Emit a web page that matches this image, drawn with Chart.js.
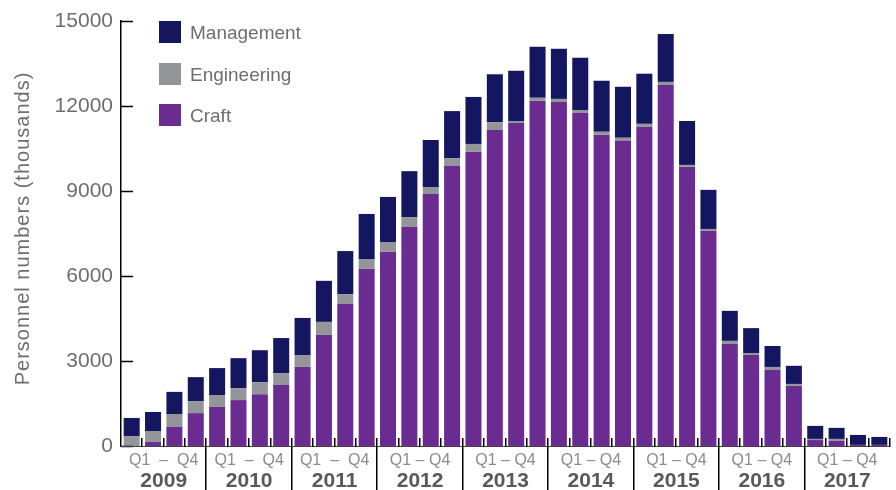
<!DOCTYPE html>
<html>
<head>
<meta charset="utf-8">
<script src="https://cdn.jsdelivr.net/npm/chart.js@4.4.0/dist/chart.umd.min.js"></script>
<style>
  html, body { margin: 0; padding: 0; background: #fff; }
  #wrap { width: 896px; height: 490px; position: relative; }
</style>
</head>
<body>
<div id="wrap"><canvas id="chart"></canvas></div>
<script>
// quarterly personnel numbers (thousands), 2009 Q1 .. 2017 Q4
var years = ['2009', '2010', '2011', '2012', '2013', '2014', '2015', '2016', '2017'];
var quarters = ['Q1', 'Q2', 'Q3', 'Q4'];
var periodLabels = ['Q1  \u2013  Q4', 'Q1  \u2013  Q4', 'Q1  \u2013  Q4', 'Q1 \u2013 Q4', 'Q1 \u2013 Q4',
                    'Q1 \u2013 Q4', 'Q1 \u2013 Q4', 'Q1 \u2013 Q4', 'Q1 \u2013 Q4'];

var craft = [0, 140, 670, 1160, 1380, 1620, 1830, 2150,
             2790, 3920, 5010, 6250, 6850, 7730, 8890, 9880,
             10380, 11150, 11400, 12180, 12140, 11750, 10980, 10770,
             11260, 12740, 9850, 7590, 3600, 3210, 2680, 2120,
             210, 180, 40, 40];
var engineering = [350, 390, 460, 420, 420, 420, 420, 420,
                   420, 460, 350, 350, 350, 350, 250, 280,
                   280, 280, 70, 110, 110, 110, 110, 110,
                   110, 110, 70, 70, 110, 70, 110, 70,
                   40, 70, 0, 0];
var management = [640, 670, 780, 850, 950, 1060, 1130, 1240,
                  1310, 1450, 1520, 1590, 1590, 1620, 1660, 1660,
                  1660, 1690, 1770, 1800, 1770, 1840, 1800, 1800,
                  1770, 1690, 1550, 1380, 1060, 880, 740, 640,
                  460, 390, 350, 280];

var yTicks = [0, 3000, 6000, 9000, 12000, 15000];
var yTitle = 'Personnel numbers (thousands)';
var legendNames = ['Management', 'Engineering', 'Craft'];

var NAVY = '#141760';
var GREY = '#939598';
var PURPLE = '#6b2c91';
var TEXT = '#6d6e71';
var FONT = '"Liberation Sans", Arial, Helvetica, sans-serif';

var categories = [];
years.forEach(function (y) {
  quarters.forEach(function (q) { categories.push(q + ' ' + y); });
});

var decor = {
  id: 'decor',
  afterDraw: function (chart) {
    var ctx = chart.ctx;
    var area = chart.chartArea;
    var xs = chart.scales.x;
    var ys = chart.scales.y;
    var half = (xs.getPixelForValue(1) - xs.getPixelForValue(0)) / 2;
    var base = ys.getPixelForValue(0);
    var H = chart.height;

    ctx.save();
    // inward ticks on the value axis
    ctx.strokeStyle = '#000';
    ctx.lineWidth = 1.5;
    yTicks.forEach(function (v) {
      var y = Math.round(ys.getPixelForValue(v)) + 0.5;
      ctx.beginPath();
      ctx.moveTo(area.left, y);
      ctx.lineTo(area.left + 12, y);
      ctx.stroke();
    });

    // baseline
    ctx.strokeStyle = '#444';
    ctx.lineWidth = 1;
    ctx.beginPath();
    ctx.moveTo(area.left, Math.round(base) + 0.5);
    ctx.lineTo(area.right, Math.round(base) + 0.5);
    ctx.stroke();

    // quarter ticks and year separators
    ctx.strokeStyle = '#000';
    ctx.lineWidth = 1.5;
    for (var i = 1; i <= categories.length; i++) {
      var x = i < categories.length ? xs.getPixelForValue(i) - half : xs.getPixelForValue(i - 1) + half;
      x = Math.round(x) - 0.25;
      ctx.beginPath();
      ctx.moveTo(x, base - 8);
      ctx.lineTo(x, (i % 4 === 0 && i < categories.length) ? H : base + 1);
      ctx.stroke();
    }

    // year labels
    ctx.textAlign = 'center';
    ctx.textBaseline = 'middle';
    years.forEach(function (yr, k) {
      var cx = (xs.getPixelForValue(4 * k + 1) + xs.getPixelForValue(4 * k + 2)) / 2;
      ctx.fillStyle = '#8a8b8e';
      ctx.font = '16px ' + FONT;
      ctx.fillText(periodLabels[k], cx, base + 15);
      ctx.fillStyle = '#58595b';
      ctx.font = 'bold 21px ' + FONT;
      ctx.fillText(yr, cx, base + 35);
    });

    // legend
    var colourOf = {};
    chart.data.datasets.forEach(function (d) { colourOf[d.label] = d.backgroundColor; });
    ctx.textAlign = 'left';
    ctx.font = '19px ' + FONT;
    legendNames.forEach(function (name, k) {
      var top = 21 + k * 41.5;
      ctx.fillStyle = colourOf[name];
      ctx.fillRect(159, Math.round(top), 22, 22);
      ctx.fillStyle = TEXT;
      ctx.fillText(name, 190, top + 13);
    });

    // value axis title
    ctx.translate(23, (area.top + area.bottom) / 2 - 5);
    ctx.rotate(-Math.PI / 2);
    ctx.textAlign = 'center';
    ctx.fillStyle = TEXT;
    ctx.font = '20px ' + FONT;
    if ('letterSpacing' in ctx) ctx.letterSpacing = '1px';
    ctx.fillText(yTitle, 0, 0);
    ctx.restore();
  }
};

new Chart(document.getElementById('chart').getContext('2d'), {
  type: 'bar',
  data: {
    labels: categories,
    datasets: [
      { label: 'Craft', data: craft, backgroundColor: PURPLE },
      { label: 'Engineering', data: engineering, backgroundColor: GREY },
      { label: 'Management', data: management, backgroundColor: NAVY }
    ]
  },
  options: {
    responsive: true,
    maintainAspectRatio: false,
    animation: false,
    devicePixelRatio: 1,
    layout: { padding: { top: 21, right: 6, bottom: 44, left: 0 } },
    datasets: { bar: { categoryPercentage: 1, barPercentage: 0.75, borderWidth: 0 } },
    plugins: { legend: { display: false }, tooltip: { enabled: false } },
    scales: {
      x: { stacked: true, display: false },
      y: {
        stacked: true,
        min: 0,
        max: 15000,
        afterBuildTicks: function (s) { s.ticks = yTicks.map(function (v) { return { value: v }; }); },
        afterFit: function (s) { s.width = 121; },
        ticks: {
          color: TEXT,
          padding: 8,
          font: { family: FONT, size: 21 },
          callback: function (v) { return String(v); }
        },
        grid: { display: false, drawTicks: false },
        border: { display: true, color: '#000', width: 1.5 }
      }
    }
  },
  plugins: [decor]
});
</script>
</body>
</html>
